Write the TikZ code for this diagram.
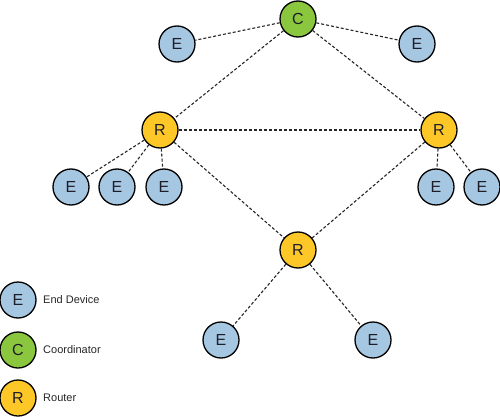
\documentclass[tikz,border=0pt]{standalone}
\usepackage{fontspec}
\setmainfont{Liberation Sans}
\definecolor{endblue}{RGB}{166,199,226}
\definecolor{coordgreen}{RGB}{138,198,62}
\definecolor{routeryellow}{RGB}{253,199,40}
\definecolor{txt}{RGB}{30,30,40}
\tikzset{
  dev/.style={circle, draw=black, line width=1.3pt, minimum size=36pt, inner sep=0pt, font=\fontsize{16}{16}\selectfont, text=txt},
  enddev/.style={dev, fill=endblue},
  coorddev/.style={dev, fill=coordgreen},
  routerdev/.style={dev, fill=routeryellow},
  link/.style={line width=1.1pt, dash pattern=on 3pt off 2pt, black!85},
  legendtext/.style={anchor=west, font=\fontsize{11}{11}\selectfont, text=black!85, inner sep=0pt}
}
\begin{document}
\begin{tikzpicture}[x=1pt,y=-1pt]
\useasboundingbox (0,0) rectangle (500,417);
\node[coorddev] (C) at (298,19) {C};
\node[enddev] (E1) at (177,44) {E};
\node[enddev] (E2) at (417,44) {E};
\node[routerdev] (RL) at (160,130) {R};
\node[routerdev] (RR) at (439,130) {R};
\node[routerdev] (RM) at (298,250) {R};
\node[enddev] (L1) at (71,187) {E};
\node[enddev] (L2) at (117,187) {E};
\node[enddev] (L3) at (164,187) {E};
\node[enddev] (R1) at (436,187) {E};
\node[enddev] (R2) at (482,187) {E};
\node[enddev] (B1) at (221,340) {E};
\node[enddev] (B2) at (373,340) {E};
\draw[link] (C) -- (E1);
\draw[link] (C) -- (E2);
\draw[link] (C) -- (RL);
\draw[link] (C) -- (RR);
\draw[link] (RL) -- (RR);
\draw[link] (RL) -- (L1);
\draw[link] (RL) -- (L2);
\draw[link] (RL) -- (L3);
\draw[link] (RL) -- (RM);
\draw[link] (RR) -- (RM);
\draw[link] (RR) -- (R1);
\draw[link] (RR) -- (R2);
\draw[link] (RM) -- (B1);
\draw[link] (RM) -- (B2);
% legend
\node[enddev] (LE) at (18,300) {E};
\node[coorddev] (LC) at (18,350) {C};
\node[routerdev] (LR) at (18,398) {R};
\node[legendtext] (tE) at (43,300) {End Device};
\node[legendtext] (tC) at (43,350) {Coordinator};
\node[legendtext] (tR) at (43,398) {Router};
\end{tikzpicture}
\end{document}
